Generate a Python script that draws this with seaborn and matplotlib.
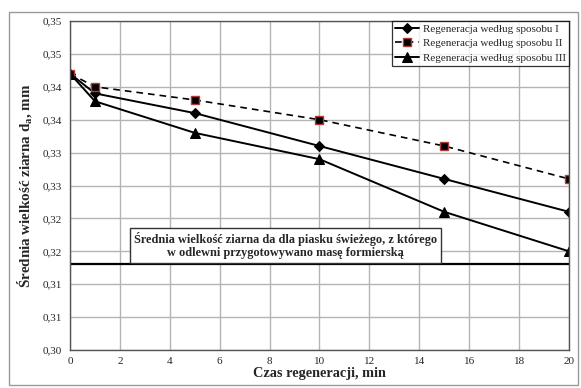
import seaborn as sns
import matplotlib.pyplot as plt
import pandas as pd
from matplotlib.patches import Rectangle

# data
czas = [0, 1, 5, 10, 15, 20]
sposob_1 = [0.342, 0.339, 0.336, 0.331, 0.326, 0.321]
sposob_2 = [0.342, 0.340, 0.338, 0.335, 0.331, 0.326]
sposob_3 = [0.342, 0.3378, 0.333, 0.329, 0.321, 0.315]
swiezy = 0.313
y_ticks = [0.300, 0.305, 0.310, 0.315, 0.320, 0.325, 0.330, 0.335, 0.340, 0.345, 0.350]
y_labels = ['0,30', '0,31', '0,31', '0,32', '0,32', '0,33', '0,33', '0,34', '0,34', '0,35', '0,35']
x_ticks = list(range(0, 21, 2))
names = ['Regeneracja według sposobu I', 'Regeneracja według sposobu II', 'Regeneracja według sposobu III']

df = pd.DataFrame({'czas': czas, 'I': sposob_1, 'II': sposob_2, 'III': sposob_3})

sns.set_style("white")
plt.rcParams['font.family'] = ['Liberation Serif', 'DejaVu Serif']
plt.rcParams['mathtext.fontset'] = 'custom'
plt.rcParams['mathtext.bf'] = 'Liberation Serif:bold'
plt.rcParams['mathtext.rm'] = 'Liberation Serif'

fig = plt.figure(figsize=(5.81, 3.88), dpi=100)
ax = fig.add_axes([0.1205, 0.0979, 0.8588, 0.848])

sns.lineplot(data=df, x='czas', y='I', ax=ax, color='black', lw=1.4, marker='D', markersize=5.5,
             markeredgecolor='black', label=names[0])
sns.lineplot(data=df, x='czas', y='II', ax=ax, color='black', lw=1.2, linestyle=(0, (4, 3)), marker='s',
             markersize=6, markerfacecolor='black', markeredgecolor='#b03a3a', markeredgewidth=1.0,
             label=names[1])
sns.lineplot(data=df, x='czas', y='III', ax=ax, color='black', lw=1.4, marker='^', markersize=6.5,
             markeredgecolor='black', label=names[2])
ax.axhline(swiezy, color='black', lw=1.6, zorder=1)

ax.set_xlim(0, 20)
ax.set_ylim(0.30, 0.35)
ax.set_xticks(x_ticks)
ax.set_yticks(y_ticks)
ax.set_yticklabels(y_labels)
ax.grid(True, color='#b4b4b4', lw=1.0)
ax.set_axisbelow(True)
ax.tick_params(axis='both', labelsize=8, direction='out', length=3, color='#808080', pad=3)
ax.tick_params(axis='x', pad=2)
for s in ax.spines.values():
    s.set_color('#555555')
    s.set_linewidth(1.0)

ax.set_xlabel('Czas regeneracji, min', fontsize=10.3, fontweight='bold', labelpad=1)
ax.set_ylabel(r'Średnia wielkość ziarna d$_\mathbf{a}$, mm', fontsize=10.8, fontweight='bold', labelpad=5)

ax.text(8.64, 0.3159, 'Średnia wielkość ziarna da dla piasku świeżego, z którego\nw odlewni przygotowywano masę formierską',
        ha='center', va='center', fontsize=8.8, fontweight='bold', linespacing=1.1,
        bbox=dict(boxstyle='square,pad=0.3', facecolor='white', edgecolor='#333333', lw=1.0))

leg = ax.legend(loc='upper right', borderaxespad=0, fontsize=8, frameon=True, fancybox=False,
                handlelength=2.2, handletextpad=0.3, borderpad=0.3, labelspacing=0.4)
leg.get_frame().set_edgecolor('black')
leg.get_frame().set_linewidth(0.9)

fig.patches.append(Rectangle((0.0155, 0.008), 0.979, 0.961, transform=fig.transFigure,
                             fill=False, edgecolor='#999999', lw=1.0))

fig.savefig('out.png', dpi=100)
